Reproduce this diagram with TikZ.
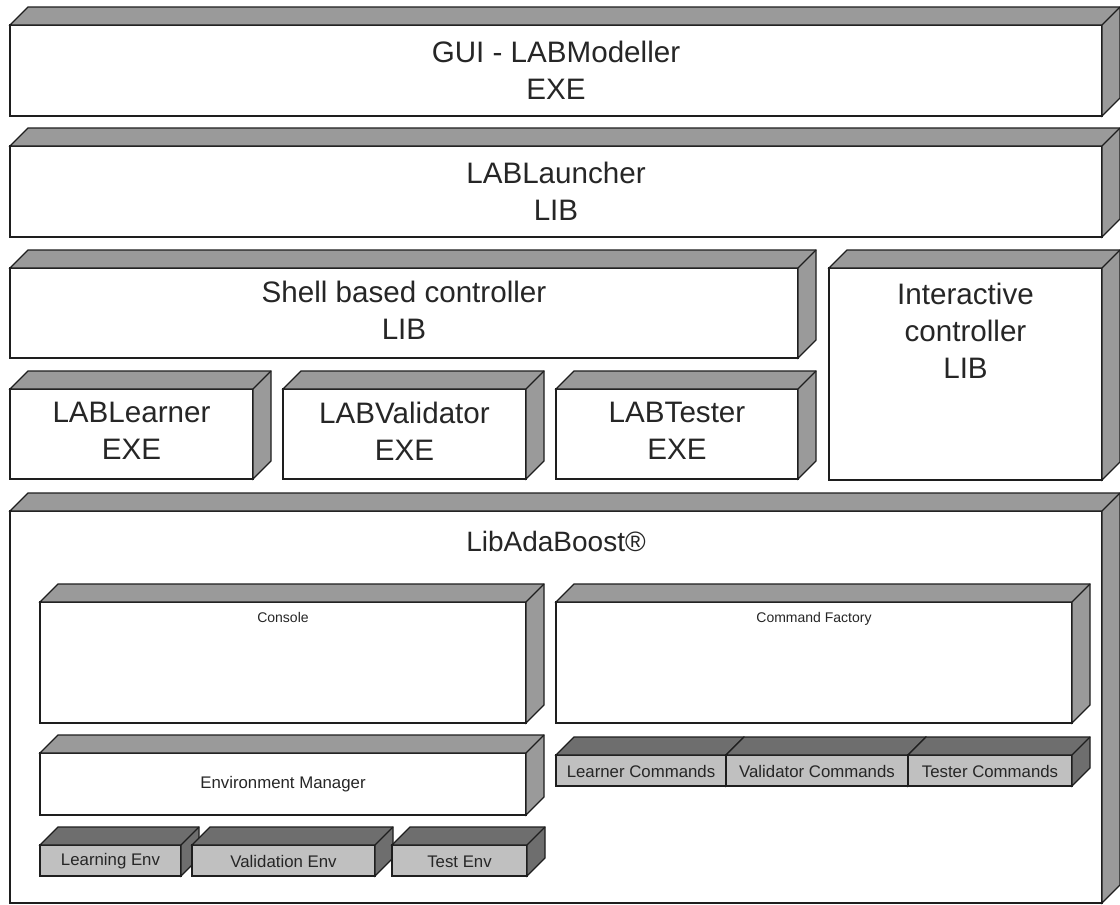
\documentclass[tikz,border=0pt]{standalone}
\usepackage{fontspec}
\setmainfont{Liberation Sans}
\usetikzlibrary{calc}
\definecolor{sidegray}{HTML}{9A9A9A}
\definecolor{darkside}{HTML}{6E6E6E}
\definecolor{lightfront}{HTML}{C0C0C0}
\definecolor{edgecol}{HTML}{1E1E1E}
\newcommand{\dd}{18}
% name, x1, y1, x2, y2, front colour, side colour
\newcommand{\boxcube}[7]{%
  \node[face, fill=#6, minimum width={#4-#2}, minimum height={#5-#3}, anchor=north west] (#1) at (#2,#3) {};
  \filldraw[edge, fill=#7] (#1.north west) -- ++(\dd,-\dd) -- ($(#1.north east)+(\dd,-\dd)$) -- ($(#1.south east)+(\dd,-\dd)$) -- (#1.south east) -- (#1.north east) -- cycle;
  \draw[edge] (#1.north east) -- ++(\dd,-\dd);
}
\begin{document}
\begin{tikzpicture}[x=1pt,y=-1pt,
  face/.style={draw=edgecol, line width=1.2pt, inner sep=0pt, outer sep=0pt, rectangle},
  edge/.style={draw=edgecol, line width=1.2pt, line join=miter},
  big/.style={font=\fontsize{29.6}{37}\selectfont, align=center, text=black!85, inner sep=0pt},
  mid/.style={font=\fontsize{28}{34}\selectfont, align=center, text=black!85, inner sep=0pt},
  small/.style={font=\fontsize{16.8}{20}\selectfont, align=center, text=black!85, inner sep=0pt},
  tiny/.style={font=\fontsize{14}{17}\selectfont, align=center, text=black!85, inner sep=0pt}]
\useasboundingbox (0,0) rectangle (1120,905);
\fill[white] (0,0) rectangle (1120,905);

% top layers
\boxcube{gui}{10}{25}{1102}{116}{white}{sidegray}
\node[big] (guit) at (gui.center) {GUI - LABModeller\\EXE};
\boxcube{launch}{10}{146}{1102}{237}{white}{sidegray}
\node[big] (launcht) at (launch.center) {LABLauncher\\LIB};
\boxcube{shell}{10}{268}{798}{358}{white}{sidegray}
\node[big] (shellt) at ($(shell.center)+(0,-3)$) {Shell based controller\\LIB};
\boxcube{inter}{829}{268}{1102}{480}{white}{sidegray}
\node[big, anchor=north] (intert) at ($(inter.north)+(0,15)$) {Interactive\\controller\\LIB};

\boxcube{learner}{10}{389}{253}{479}{white}{sidegray}
\node[big] (learnert) at ($(learner.center)+(0,-3)$) {LABLearner\\EXE};
\boxcube{valid}{283}{389}{526}{479}{white}{sidegray}
\node[big] (validt) at ($(valid.center)+(0,-3)$) {LABValidator\\EXE};
\boxcube{tester}{556}{389}{798}{479}{white}{sidegray}
\node[big] (testert) at ($(tester.center)+(0,-3)$) {LABTester\\EXE};

% LibAdaBoost
\boxcube{lib}{10}{511}{1102}{903}{white}{sidegray}
\node[mid, anchor=north] (libt) at ($(lib.north)+(0,20)$) {LibAdaBoost®};

\boxcube{console}{40}{602}{526}{723}{white}{sidegray}
\node[tiny, anchor=north] (consolet) at ($(console.north)+(0,10)$) {Console};
\boxcube{factory}{556}{602}{1072}{723}{white}{sidegray}
\node[tiny, anchor=north] (factoryt) at ($(factory.north)+(0,10)$) {Command Factory};

\boxcube{envm}{40}{753}{526}{815}{white}{sidegray}
\node[small] (envmt) at (envm.center) {Environment Manager};

\boxcube{lenv}{40}{845}{181}{876}{lightfront}{darkside}
\node[small] (lenvt) at ($(lenv.center)+(0,1)$) {Learning Env};
\boxcube{venv}{192}{845}{375}{876}{lightfront}{darkside}
\node[small] (venvt) at ($(venv.center)+(0,1)$) {Validation Env};
\boxcube{tenv}{392}{845}{527}{876}{lightfront}{darkside}
\node[small] (tenvt) at ($(tenv.center)+(0,1)$) {Test Env};

\boxcube{lcmd}{556}{755}{726}{786}{lightfront}{darkside}
\node[small] (lcmdt) at ($(lcmd.center)+(0,1)$) {Learner Commands};
\boxcube{vcmd}{726}{755}{908}{786}{lightfront}{darkside}
\node[small] (vcmdt) at ($(vcmd.center)+(0,1)$) {Validator Commands};
\boxcube{tcmd}{908}{755}{1072}{786}{lightfront}{darkside}
\node[small] (tcmdt) at ($(tcmd.center)+(0,1)$) {Tester Commands};
\end{tikzpicture}
\end{document}
